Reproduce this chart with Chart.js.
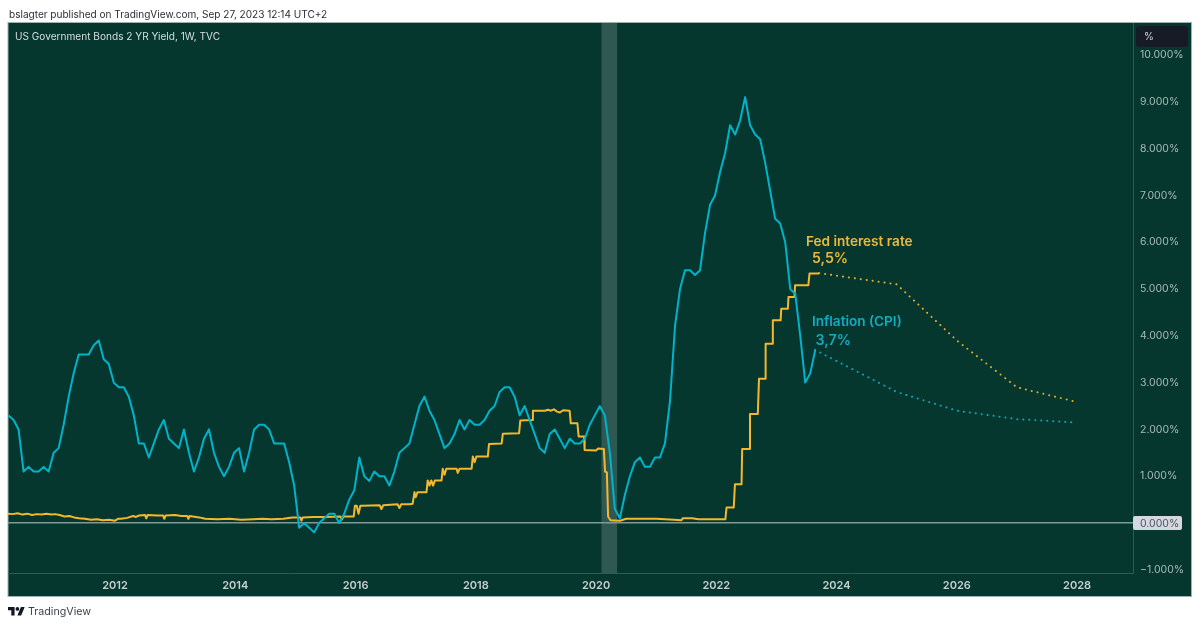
<!DOCTYPE html>
<html>
<head>
<meta charset="utf-8">
<title>US Government Bonds 2 YR Yield</title>
<script src="https://cdn.jsdelivr.net/npm/chart.js@4"></script>
<style>
    html, body { margin: 0; padding: 0; background: #fff; }
    canvas { display: block; }
</style>
</head>
<body>
<canvas id="rateChart" width="1200" height="626"></canvas>
<script>
// Monthly CPI readings, first one is March 2010
const cpiStartYear = 2010;
const cpiStartMonth = 2;
const cpiValues = [
    2.3, 2.2, 2.0, 1.1, 1.2, 1.1, 1.1, 1.2, 1.1, 1.5,
    1.6, 2.1, 2.7, 3.2, 3.6, 3.6, 3.6, 3.8, 3.9, 3.5, 3.4, 3.0,
    2.9, 2.9, 2.7, 2.3, 1.7, 1.7, 1.4, 1.7, 2.0, 2.2, 1.8, 1.7,
    1.6, 2.0, 1.5, 1.1, 1.4, 1.8, 2.0, 1.5, 1.2, 1.0, 1.2, 1.5,
    1.6, 1.1, 1.5, 2.0, 2.1, 2.1, 2.0, 1.7, 1.7, 1.7, 1.3, 0.8,
    -0.1, 0.0, -0.1, -0.2, 0.0, 0.1, 0.2, 0.2, 0.0, 0.2, 0.5, 0.7,
    1.4, 1.0, 0.9, 1.1, 1.0, 1.0, 0.8, 1.1, 1.5, 1.6, 1.7, 2.1,
    2.5, 2.7, 2.4, 2.2, 1.9, 1.6, 1.7, 1.9, 2.2, 2.0, 2.2, 2.1,
    2.1, 2.2, 2.4, 2.5, 2.8, 2.9, 2.9, 2.7, 2.3, 2.5, 2.2, 1.9,
    1.6, 1.5, 1.9, 2.0, 1.8, 1.6, 1.8, 1.7, 1.7, 1.8, 2.1, 2.3,
    2.5, 2.3, 1.5, 0.3, 0.1, 0.6, 1.0, 1.3, 1.4, 1.2, 1.2, 1.4,
    1.4, 1.7, 2.6, 4.2, 5.0, 5.4, 5.4, 5.3, 5.4, 6.2, 6.8, 7.0,
    7.5, 7.9, 8.5, 8.3, 8.6, 9.1, 8.5, 8.3, 8.2, 7.7, 7.1, 6.5,
    6.4, 6.0, 5.0, 4.9, 4.0, 3.0, 3.2, 3.7
];

const fedYears = [
    2010.22, 2010.3, 2010.38, 2010.46, 2010.54, 2010.62, 2010.7, 2010.78, 2010.86, 2010.94,
    2011.0, 2011.08, 2011.16, 2011.24, 2011.32, 2011.4, 2011.5, 2011.6, 2011.7, 2011.8,
    2011.9, 2012.0, 2012.05, 2012.1, 2012.2, 2012.3, 2012.35, 2012.4, 2012.5, 2012.52,
    2012.54, 2012.7, 2012.8, 2012.82, 2012.84, 2013.0, 2013.1, 2013.2, 2013.22, 2013.24,
    2013.4, 2013.5, 2013.7, 2013.9, 2014.1, 2014.3, 2014.45, 2014.6, 2014.8, 2014.95,
    2015.05, 2015.08, 2015.1, 2015.12, 2015.3, 2015.5, 2015.75, 2015.77, 2015.8, 2015.97,
    2015.99, 2016.02, 2016.05,
    2016.08, 2016.11, 2016.4, 2016.43, 2016.46, 2016.7, 2016.73, 2016.76, 2016.9, 2016.95,
    2016.98, 2017.0, 2017.03, 2017.18, 2017.2, 2017.23, 2017.26, 2017.29, 2017.32, 2017.35,
    2017.43, 2017.45, 2017.48, 2017.51, 2017.68, 2017.7, 2017.73, 2017.93, 2017.95, 2017.98,
    2018.01, 2018.2, 2018.22, 2018.43, 2018.45, 2018.72, 2018.74, 2018.94, 2018.95, 2019.15,
    2019.2, 2019.25, 2019.3, 2019.35, 2019.4, 2019.45, 2019.56, 2019.58, 2019.69, 2019.71,
    2019.8, 2019.81, 2020.0, 2020.03, 2020.13, 2020.15, 2020.18, 2020.2, 2020.24, 2020.4,
    2020.5, 2020.8, 2021.0, 2021.3, 2021.42, 2021.44, 2021.6, 2021.7, 2022.15, 2022.17,
    2022.29, 2022.31, 2022.42, 2022.43, 2022.55, 2022.56, 2022.69, 2022.71, 2022.81, 2022.82,
    2022.93, 2022.94, 2023.07, 2023.08, 2023.19, 2023.2, 2023.3, 2023.31, 2023.53, 2023.55, 2023.71
];
const fedValues = [
    0.20, 0.19, 0.21, 0.18, 0.20, 0.17, 0.19, 0.18, 0.20, 0.18,
    0.19, 0.17, 0.14, 0.15, 0.12, 0.10, 0.09, 0.07, 0.08, 0.06,
    0.07, 0.05, 0.09, 0.09, 0.11, 0.15, 0.13, 0.16, 0.17, 0.10,
    0.17, 0.16, 0.16, 0.09, 0.16, 0.17, 0.15, 0.15, 0.09, 0.15,
    0.12, 0.09, 0.08, 0.09, 0.07, 0.08, 0.09, 0.08, 0.09, 0.12,
    0.12, 0.12, 0.05, 0.12, 0.13, 0.13, 0.14, 0.07, 0.14, 0.14,
    0.37, 0.37, 0.20,
    0.37, 0.37, 0.38, 0.30, 0.38, 0.40, 0.32, 0.40, 0.40, 0.41,
    0.66, 0.55, 0.66, 0.66, 0.91, 0.80, 0.91, 0.80, 0.91, 0.91,
    0.91, 1.16, 1.03, 1.16, 1.16, 1.07, 1.16, 1.16, 1.42, 1.30,
    1.42, 1.42, 1.69, 1.70, 1.91, 1.92, 2.19, 2.20, 2.40, 2.40,
    2.42, 2.40, 2.43, 2.38, 2.36, 2.41, 2.40, 2.13, 2.13, 1.85,
    1.85, 1.56, 1.55, 1.59, 1.58, 1.10, 1.08, 0.14, 0.06, 0.05,
    0.09, 0.09, 0.09, 0.07, 0.06, 0.10, 0.10, 0.08, 0.08, 0.33,
    0.33, 0.83, 0.83, 1.58, 1.58, 2.33, 2.33, 3.08, 3.08, 3.83,
    3.83, 4.33, 4.33, 4.58, 4.58, 4.83, 4.83, 5.08, 5.08, 5.33, 5.33
];

// Dotted projections
const fedProjYears = [2023.71, 2025.0, 2026.0, 2027.0, 2027.95];
const fedProjValues = [5.34, 5.1, 3.9, 2.9, 2.6];
const cpiProjYears = [2023.64, 2025.0, 2026.0, 2027.0, 2027.95];
const cpiProjValues = [3.7, 2.8, 2.4, 2.22, 2.15];

// Axes and recession band
const xTickYears = [2012, 2014, 2016, 2018, 2020, 2022, 2024, 2026, 2028];
const yTickValues = [10, 9, 8, 7, 6, 5, 4, 3, 2, 1, 0, -1];
const recessionBand = [2020.09, 2020.35];

const BG = '#05372f';
const GOLD = '#f5b82c';
const CYAN = '#00b3cb';
const AXIS_LINE = '#2c5c52';
const FONT = 'Inter, "Noto Sans", sans-serif';

// Notes sitting next to the lines, placed in data coordinates
const notes = [
    { text: 'Fed interest rate', year: 2023.49, value: 6.0, color: '#e9b93f', size: 13.6 },
    { text: '5,5%', year: 2023.59, value: 5.64, color: '#e9b93f', size: 14.2 },
    { text: 'Inflation (CPI)', year: 2023.59, value: 4.3, color: '#14aac2', size: 13.6 },
    { text: '3,7%', year: 2023.65, value: 3.9, color: '#14aac2', size: 14.2 }
];

function toPoints(xs, ys) {
    return xs.map((x, i) => ({ x: x, y: ys[i] }));
}

// Readings are plotted a little past the middle of their month
const cpiPoints = cpiValues.map((v, i) => ({
    x: cpiStartYear + (cpiStartMonth + i + 0.75) / 12,
    y: v
}));

const logoPath = new Path2D('M14 22H7V11H0V4h14v18zM28 22h-8l7.5-18h8L28 22z');

const pageLayer = {
    id: 'pageLayer',
    beforeDraw(chart) {
        const ctx = chart.ctx;
        const area = chart.chartArea;
        const x = chart.scales.x;

        // Dark panel including the axis strips
        ctx.save();
        ctx.fillStyle = BG;
        ctx.fillRect(8, 23, 1183, 573);
        ctx.strokeStyle = '#9db3ad';
        ctx.lineWidth = 1;
        ctx.strokeRect(8, 22.5, 1183.5, 574);

        // Recession band
        const left = x.getPixelForValue(recessionBand[0]);
        const right = x.getPixelForValue(recessionBand[1]);
        ctx.fillStyle = 'rgba(255,255,255,0.17)';
        ctx.fillRect(left, area.top, right - left, area.bottom - area.top);
        ctx.restore();
    },
    afterDraw(chart) {
        const ctx = chart.ctx;
        const x = chart.scales.x;
        const y = chart.scales.y;

        ctx.save();
        ctx.textBaseline = 'middle';
        ctx.textAlign = 'left';

        // Header above the panel
        ctx.fillStyle = '#2a2e39';
        ctx.font = '10.05px ' + FONT;
        ctx.fillText('bslagter published on TradingView.com, Sep 27, 2023 12:14 UTC+2', 9, 15);

        // Symbol line
        ctx.fillStyle = '#d6dedb';
        ctx.font = '10.1px ' + FONT;
        ctx.fillText('US Government Bonds 2 YR Yield, 1W, TVC', 15, 37);

        // Unit box on the price scale
        ctx.fillStyle = '#171b26';
        ctx.beginPath();
        ctx.roundRect(1136, 26, 52, 21, 3);
        ctx.fill();
        ctx.fillStyle = '#d1d4dc';
        ctx.font = '10px ' + FONT;
        ctx.fillText('%', 1144, 37);

        // Zero label box
        const zero = y.getPixelForValue(0);
        ctx.fillStyle = '#d5d8e0';
        ctx.beginPath();
        ctx.roundRect(1133, zero - 7, 49, 14, 2);
        ctx.fill();
        ctx.fillStyle = '#4a5560';
        ctx.font = '10.5px ' + FONT;
        ctx.fillText('0.000%', 1140, zero + 0.5);

        // Notes
        notes.forEach(n => {
            ctx.font = '600 ' + n.size + 'px ' + FONT;
            ctx.fillStyle = n.color;
            ctx.fillText(n.text, x.getPixelForValue(n.year), y.getPixelForValue(n.value));
        });

        // Footer logo and name
        ctx.save();
        ctx.translate(8, 605.2);
        ctx.scale(0.47, 0.47);
        ctx.fillStyle = '#131722';
        ctx.fill(logoPath);
        ctx.beginPath();
        ctx.arc(20, 8, 4, 0, Math.PI * 2);
        ctx.fill();
        ctx.restore();
        ctx.fillStyle = '#3a3f4a';
        ctx.font = '10.7px ' + FONT;
        ctx.fillText('TradingView', 28, 611.5);
        ctx.restore();
    }
};

new Chart(document.getElementById('rateChart').getContext('2d'), {
    type: 'line',
    data: {
        datasets: [
            { label: 'Inflation (CPI)', data: cpiPoints, borderColor: CYAN, borderWidth: 2 },
            { label: 'Fed interest rate', data: toPoints(fedYears, fedValues), borderColor: GOLD, borderWidth: 2 },
            { label: 'Fed projection', data: toPoints(fedProjYears, fedProjValues), borderColor: '#e0ae30', borderWidth: 2, borderDash: [0.1, 5.9], borderCapStyle: 'round' },
            { label: 'CPI projection', data: toPoints(cpiProjYears, cpiProjValues), borderColor: '#0fa6bc', borderWidth: 2, borderDash: [0.1, 5.9], borderCapStyle: 'round' }
        ]
    },
    options: {
        responsive: false,
        animation: false,
        parsing: false,
        layout: { padding: { left: 8, top: 23, right: 9, bottom: 30 } },
        elements: {
            point: { radius: 0 },
            line: { tension: 0, borderJoinStyle: 'round' }
        },
        plugins: {
            legend: { display: false },
            tooltip: { enabled: false },
            title: { display: false }
        },
        scales: {
            x: {
                type: 'linear',
                min: 2010.22,
                max: 2028.93,
                afterFit(scale) { scale.height = 23; },
                afterBuildTicks(scale) { scale.ticks = xTickYears.map(v => ({ value: v })); },
                grid: { display: false, drawTicks: false },
                border: { display: true, color: AXIS_LINE, width: 1 },
                ticks: {
                    color: '#c6d0cd',
                    font: { family: FONT, size: 11, weight: '600' },
                    padding: 6,
                    maxRotation: 0,
                    autoSkip: false,
                    callback: v => String(v)
                }
            },
            y: {
                position: 'right',
                min: -1.068,
                max: 10.684,
                afterFit(scale) { scale.width = 58; },
                afterBuildTicks(scale) { scale.ticks = yTickValues.map(v => ({ value: v })); },
                grid: {
                    drawTicks: false,
                    color: ctx => ctx.tick && ctx.tick.value === 0 ? '#7e9a93' : 'rgba(0,0,0,0)',
                    lineWidth: ctx => ctx.tick && ctx.tick.value === 0 ? 1.5 : 0
                },
                border: { display: true, color: AXIS_LINE, width: 1 },
                ticks: {
                    color: '#a9bab5',
                    font: { family: FONT, size: 10.5 },
                    padding: 7,
                    crossAlign: 'near',
                    autoSkip: false,
                    // the zero label gets its own box
                    callback: v => v === 0 ? '' : (v < 0 ? '\u2212' + Math.abs(v).toFixed(3) : v.toFixed(3)) + '%'
                }
            }
        }
    },
    plugins: [pageLayer]
});
</script>
</body>
</html>
